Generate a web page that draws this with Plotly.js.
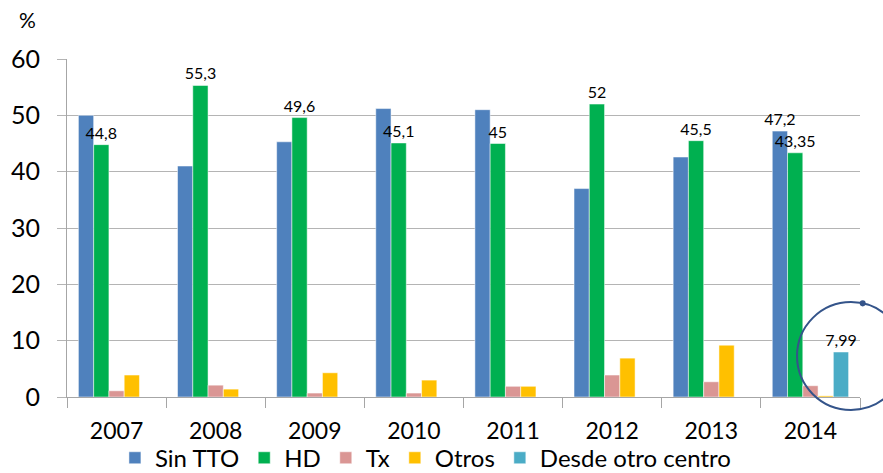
<!DOCTYPE html>
<html>
<head>
<meta charset="utf-8">
<script src="https://cdn.plot.ly/plotly-3.0.1.min.js"></script>
<style>html,body{margin:0;padding:0;background:#fff;}#chart{width:883px;height:473px;}</style>
</head>
<body>
<div id="chart"></div>
<script>
// ---- data ----
const years = ["2007", "2008", "2009", "2010", "2011", "2012", "2013", "2014"];
const sinTTO = [50.0, 41.0, 45.3, 51.2, 51.0, 37.0, 42.6, 47.2];
const hd = [44.8, 55.3, 49.6, 45.1, 45, 52, 45.5, 43.35];
const tx = [1.1, 2.1, 0.7, 0.7, 1.9, 3.9, 2.7, 2.0];
const otros = [3.9, 1.4, 4.3, 3.0, 1.9, 6.9, 9.2, 0.2];
const desdeOtro = [null, null, null, null, null, null, null, 7.99];
const sinTTOLabels = ["", "", "", "", "", "", "", "47,2"];
const hdLabels = ["44,8", "55,3", "49,6", "45,1", "45", "52", "45,5", "43,35"];
const desdeLabels = ["", "", "", "", "", "", "", "7,99"];
const yTicks = [0, 10, 20, 30, 40, 50, 60];

const FONT = "Lato, 'Open Sans', sans-serif";
const labelFont = {family: FONT, size: 16, color: "#000"};
const edge = {color: "rgba(255,255,255,0.5)", width: 1};

function barTrace(name, y, color, text) {
  const t = {
    type: "bar", name: name, x: years, y: y,
    marker: {color: color, line: edge},
    hoverinfo: "none"
  };
  if (text) {
    t.text = text;
    t.textposition = "outside";
    t.textfont = labelFont;
    t.constraintext = "none";
    t.cliponaxis = false;
  }
  return t;
}

const data = [
  barTrace("Sin TTO", sinTTO, "#4F81BD", sinTTOLabels),
  barTrace("HD", hd, "#00B050", hdLabels),
  barTrace("Tx", tx, "#DA9694", null),
  barTrace("Otros", otros, "#FFC000", null),
  barTrace("Desde otro centro", desdeOtro, "#4BACC6", desdeLabels)
];

const layout = {
  width: 883, height: 473,
  margin: {l: 67, r: 23, t: 59, b: 76, pad: 0, autoexpand: false},
  paper_bgcolor: "#fff", plot_bgcolor: "#fff",
  font: {family: FONT, color: "#000"},
  barmode: "group", bargap: 0.23, bargroupgap: 0,
  showlegend: true,
  legend: {
    orientation: "h", x: 0.452, xanchor: "center", y: -0.181, yanchor: "middle",
    bgcolor: "rgba(0,0,0,0)", borderwidth: 0,
    font: {family: FONT, size: 24, color: "#000"},
    traceorder: "normal", itemclick: false
  },
  xaxis: {
    type: "category",
    showline: true, linecolor: "#a6a6a6", linewidth: 1,
    ticks: "outside", tickson: "boundaries", ticklen: 10, tickcolor: "#a6a6a6",
    tickfont: {family: FONT, size: 23, color: "#000"},
    ticklabelstandoff: 13,
    showgrid: false, zeroline: false, fixedrange: true
  },
  yaxis: {
    range: [0, 60], tickvals: yTicks, ticktext: yTicks.map(String),
    showline: true, linecolor: "#a6a6a6", linewidth: 1,
    ticks: "outside", ticklen: 9, tickcolor: "#b4b4b4",
    showgrid: true, gridcolor: "#b4b4b4", gridwidth: 1,
    zeroline: false,
    tickfont: {family: FONT, size: 25, color: "#000"},
    ticklabelstandoff: 12, fixedrange: true
  },
  annotations: [
    {text: "%", xref: "paper", yref: "paper", x: -0.0498, y: 1.118,
     xanchor: "center", yanchor: "middle", showarrow: false,
     font: {family: FONT, size: 21, color: "#000"}}
  ],
  shapes: [
    {type: "circle", xref: "paper", yref: "paper", x0: 0.9206, x1: 1.0567, y0: -0.0384, y1: 0.2808,
     line: {color: "#34548A", width: 2}, fillcolor: "rgba(0,0,0,0)", layer: "above"},
    {type: "circle", xref: "paper", yref: "paper", x0: 0.9996, x1: 1.0072, y0: 0.2681, y1: 0.2859,
     line: {color: "#34548A", width: 0}, fillcolor: "#34548A", layer: "above"}
  ]
};

Plotly.newPlot("chart", data, layout, {displayModeBar: false, staticPlot: true});
</script>
</body>
</html>
